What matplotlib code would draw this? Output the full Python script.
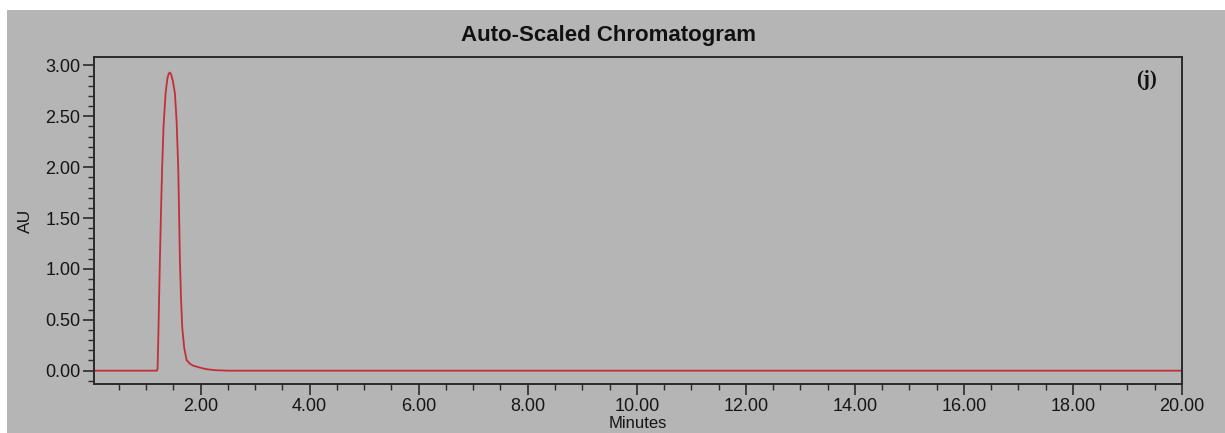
import matplotlib
matplotlib.use("Agg")
import matplotlib.pyplot as plt
from matplotlib.patches import Rectangle
from matplotlib.ticker import MultipleLocator, FormatStrFormatter

# Chromatogram trace: retention time (min) and detector response (AU)
time_min = [0.05, 1.00, 1.20, 1.211, 1.225, 1.240, 1.253, 1.275, 1.295, 1.320,
            1.358, 1.390, 1.415, 1.437, 1.460, 1.490, 1.528, 1.560, 1.589, 1.605,
            1.620, 1.640, 1.662, 1.700, 1.743, 1.800, 1.859, 1.987, 2.100, 2.260,
            2.500, 5.00, 10.00, 15.00, 20.00]
response_au = [0.0, 0.0, 0.0, 0.02, 0.35, 0.75, 1.09, 1.60, 2.00, 2.40,
               2.73, 2.87, 2.92, 2.93, 2.91, 2.85, 2.73, 2.45, 2.00, 1.55,
               1.09, 0.72, 0.43, 0.22, 0.105, 0.07, 0.05, 0.03, 0.015, 0.005,
               0.0, 0.0, 0.0, 0.0, 0.0]

x_major_ticks = [2, 4, 6, 8, 10, 12, 14, 16, 18, 20]
y_major_ticks = [0.0, 0.5, 1.0, 1.5, 2.0, 2.5, 3.0]

panel_bg = "#b5b5b5"
trace_color = "#c22f3a"
spine_color = "#2a2a2a"
text_color = "#151515"

fig = plt.figure(figsize=(12.25, 4.33), dpi=100)
fig.patch.set_facecolor("white")
fig.patches.append(Rectangle((7 / 1225, 0), 1, 1 - 10 / 433,
                             transform=fig.transFigure, facecolor=panel_bg,
                             edgecolor="none", zorder=-10))

ax = fig.add_axes([94.3 / 1225, 1 - 384.3 / 433,
                   (1182 - 94.3) / 1225, (384.3 - 57.3) / 433])
ax.set_facecolor(panel_bg)

ax.plot(time_min, response_au, color=trace_color, linewidth=1.3,
        solid_joinstyle="round")

ax.set_xlim(0.05, 20.0)
ax.set_ylim(-0.134, 3.08)

ax.set_xticks(x_major_ticks)
ax.set_yticks(y_major_ticks)
ax.xaxis.set_minor_locator(MultipleLocator(0.5))
ax.yaxis.set_minor_locator(MultipleLocator(0.1))
ax.xaxis.set_major_formatter(FormatStrFormatter("%.2f"))
ax.yaxis.set_major_formatter(FormatStrFormatter("%.2f"))

for lbl in ax.get_xticklabels() + ax.get_yticklabels():
    lbl.set_fontfamily("Liberation Sans")
    lbl.set_fontsize(13)
    lbl.set_color(text_color)

ax.tick_params(which="major", direction="out", length=8, width=1.2,
               color=spine_color, pad=2)
ax.tick_params(which="minor", direction="out", length=4.5, width=1.0,
               color=spine_color)

for side in ["left", "bottom", "right", "top"]:
    ax.spines[side].set_color(spine_color)
    ax.spines[side].set_linewidth(1.4)

ax.set_xlabel("Minutes", fontfamily="Liberation Sans", fontsize=12,
              color=text_color)
ax.set_ylabel("AU", fontfamily="Liberation Sans", fontsize=12.5,
              color=text_color)
ax.xaxis.set_label_coords(0.5, -0.097)
ax.yaxis.set_label_coords(-0.056, 0.5)

fig.text(0.497, 1 - 35 / 433, "Auto-Scaled Chromatogram",
         fontfamily="Liberation Sans", fontweight="bold", fontsize=16,
         color="#111111", ha="center", va="center")

ax.text(0.967, 0.93, "(j)", transform=ax.transAxes,
        fontfamily="Liberation Serif", fontweight="bold", fontsize=15,
        color="#111111", ha="center", va="center")

fig.savefig("out.png", dpi=100, facecolor=fig.get_facecolor())
